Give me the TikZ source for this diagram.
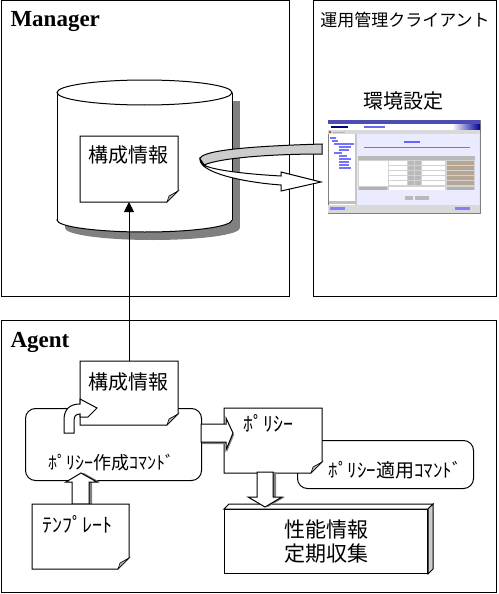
\documentclass[tikz,border=0pt]{standalone}
\usepackage{fontspec}
\setmainfont{Liberation Serif}
\newfontfamily\jfont{Noto Sans CJK JP}
\usetikzlibrary{arrows.meta}

\tikzset{
  frame/.style={draw, anchor=north west, inner sep=0},
  blank/.style={anchor=north west, inner sep=0},
  head/.style={font=\bfseries\fontsize{23}{23}\selectfont, inner sep=0},
  jtext/.style={font=\jfont\fontsize{20}{24}\selectfont, inner sep=0},
  cmdbox/.style={draw, fill=white, rounded corners=10pt, anchor=north west, inner sep=0},
}

% paper sheet with a folded corner
\newcommand\foldpaper[1]{%
  \filldraw[fill=white] (#1.north west) -- (#1.north east) -- ([yshift=11pt]#1.south east)
    -- ([xshift=-11pt]#1.south east) -- (#1.south west) -- cycle;
  \filldraw[fill=gray!60, line width=0.6pt] ([yshift=11pt]#1.south east) -- ([xshift=-11pt]#1.south east)
    -- ([xshift=-9pt,yshift=6pt]#1.south east) -- cycle;}

% block arrows
\newcommand\uparr{(72,504) -- (72,482) -- (66,482) -- (81,473) -- (97,482) -- (89,482) -- (89,504)}
\newcommand\rtarr{(201,424) -- (226,424) -- (226,418) -- (233,433) -- (226,450) -- (226,442) -- (201,442)}
\newcommand\dnarr{(257,472) -- (257,497) -- (248,497) -- (265,507) -- (282,497) -- (273,497) -- (273,472)}

\begin{document}
\begin{tikzpicture}[x=1pt, y=-1pt, line width=1pt]
\useasboundingbox (0,0) rectangle (498,594);

% frames
\node[frame, minimum width=288.5pt, minimum height=295.5pt] (mgr) at (0.5,0.5) {};
\node[frame, minimum width=183pt, minimum height=295.5pt] (cli) at (313,0.5) {};
\node[frame, minimum width=495.5pt, minimum height=272pt] (agt) at (0.5,320) {};
\node[head, anchor=base west] (mgrlbl) at (10,27) {Manager};
\node[head, anchor=base west] (agtlbl) at (10,347) {Agent};
\node[jtext, font=\jfont\fontsize{17}{20}\selectfont] (clilbl) at (405,20) {運用管理クライアント};

% database
\fill[gray] (65,100.5) rectangle (240,228);
\fill[gray] (152.5,228) ellipse [x radius=87.5, y radius=12];
\filldraw[fill=white] (144.5,220) ellipse [x radius=87.5, y radius=12];
\fill[white] (57,92.5) rectangle (232,220);
\draw (57,92.5) -- (57,220) (232,92.5) -- (232,220);
\filldraw[fill=white] (144.5,92.5) ellipse [x radius=87.5, y radius=12.5];

\node[blank, minimum width=97pt, minimum height=65pt] (mdoc) at (80,136) {};
\foldpaper{mdoc}
\node[jtext] (mdoctxt) at (128.5,155) {構成情報};

% ring arrow
\filldraw[fill=gray!40] (322,144) .. controls (255,146) and (200,150) .. (200,159) -- (204,165)
  .. controls (220,158) and (270,154) .. (322,154) -- cycle;
\filldraw[fill=white] (200,159) .. controls (199,172) and (240,182) .. (281,185) -- (281,191) -- (321,182)
  -- (281,172) -- (281,176) .. controls (245,174) and (212,170) .. (204,165) -- cycle;

% screen shot
\node[jtext] (envlbl) at (403,101) {環境設定};
\node[blank, minimum width=152pt, minimum height=93pt, fill=gray!20, draw=gray, line width=0.5pt] (shot) at (328,120) {};
\fill[blue!40!gray] (328,120) rectangle (480,124);
\fill[white] (328,124) rectangle (480,130);
\shade[left color=white, right color=blue!60!black] (452,124) rectangle (480,130);
\fill[blue!50!black] (331,126) rectangle (348,128);
\fill[blue!60] (364,126) rectangle (385,128);
\fill[gray!30] (328,130) rectangle (480,134);
\fill[orange!70!black] (329,131) rectangle (331,133);
\fill[gray!60] (333,131.5) rectangle (345,132.5);
\fill[white] (329,134) rectangle (355,205);
\fill[gray!45] (355,134) rectangle (357,205);
\fill[blue!8] (357,134) rectangle (479,205);
\foreach \x/\y/\w in {330/137/6, 332/140/6, 334/143/20, 339/146/12, 339/149/10, 334/152/8,
  339/155/8, 339/158/12, 339/161/10, 339/164/10, 339/167/12}
  \fill[blue!55] (\x,\y) rectangle ++(\w,1.5);
\fill[gray!50] (329,201) rectangle (355,204);
\fill[blue!60] (404,141) rectangle (420,143);
\draw[gray, line width=0.5pt] (364,147) -- (470,147);
\fill[gray!35] (358,156) rectangle (475,190);
\fill[gray!55] (358,156) rectangle (475,160);
\fill[white] (359,161) rectangle (388,186);
\foreach \y in {161,166,171,176,181} {
  \fill[white] (389,\y) rectangle (407,\y+4);
  \fill[gray!55] (408,\y) rectangle (414,\y+4);
  \fill[gray!55] (415,\y) rectangle (421,\y+4);
  \fill[white] (422,\y) rectangle (445,\y+4);
  \fill[brown!40!gray!70] (447,\y) rectangle (474,\y+4);
}
\fill[gray!60] (359,187) rectangle (387,190);
\fill[white] (389,187) rectangle (445,190);
\fill[gray!60] (447,187) rectangle (474,190);
\fill[gray!55] (405,196) rectangle (413,200);
\fill[gray!55] (415,196) rectangle (429,200);
\fill[gray!30] (328,205) rectangle (480,213);
\fill[blue!50] (330,207) rectangle (345,210);
\fill[blue!50] (455,207) rectangle (470,210);

% agent
\node[cmdbox, minimum width=176pt, minimum height=72pt] (mkcmd) at (25,408) {};
\node[blank, minimum width=97pt, minimum height=63pt] (adoc) at (80,361) {};
\foldpaper{adoc}
\node[jtext] (adoctxt) at (128.5,382) {構成情報};
\draw[-{Triangle[width=10pt,length=10pt]}] (adoc.north) -- (mdoc.south);
\filldraw[fill=white] (64,433) -- (64,420) .. controls (64,409) and (70,404) .. (80,404) -- (80,399)
  -- (97,408) -- (88,417) -- (80,417) -- (80,414) .. controls (76,414) and (74,416) .. (74,421) -- (74,433) -- cycle;
\node[jtext, font=\jfont\fontsize{18}{20}\selectfont] (mkcmdtxt) at (111,463) {ﾎﾟﾘｼｰ作成ｺﾏﾝﾄﾞ};

\fill[gray, shift={(3,0)}] \uparr -- cycle;
\filldraw[fill=white] \uparr -- cycle;
\node[blank, minimum width=96pt, minimum height=64pt] (tpl) at (32,504) {};
\foldpaper{tpl}
\node[jtext, anchor=west] (tpltxt) at (42,524) {ﾃﾝﾌﾟﾚｰﾄ};

\node[cmdbox, minimum width=176pt, minimum height=48pt] (apcmd) at (297,440) {};
\node[jtext, font=\jfont\fontsize{19}{20}\selectfont, anchor=west] (apcmdtxt) at (328,470) {ﾎﾟﾘｼｰ適用ｺﾏﾝﾄﾞ};
\node[blank, minimum width=97pt, minimum height=64pt] (pdoc) at (224,408) {};
\foldpaper{pdoc}
\node[jtext, anchor=west] (pdoctxt) at (243,423) {ﾎﾟﾘｼｰ};

\fill[gray, shift={(1,2)}] \rtarr -- cycle;
\filldraw[fill=white] \rtarr -- cycle;

\node[draw, fill=white, anchor=north west, minimum width=203pt, minimum height=64pt, inner sep=0,
  align=center, font=\jfont\fontsize{21}{24}\selectfont] (perf) at (224,509) {性能情報\\定期収集};
\filldraw[fill=white] (perf.north west) -- ++(5,-5) -- ([shift={(5,-5)}]perf.north east) -- (perf.north east) -- cycle;
\filldraw[fill=gray!40] (perf.north east) -- ++(5,-5) -- ([shift={(5,-5)}]perf.south east) -- (perf.south east) -- cycle;

\fill[gray, shift={(3,0)}] \dnarr -- cycle;
\filldraw[fill=white] \dnarr -- cycle;
\end{tikzpicture}
\end{document}
